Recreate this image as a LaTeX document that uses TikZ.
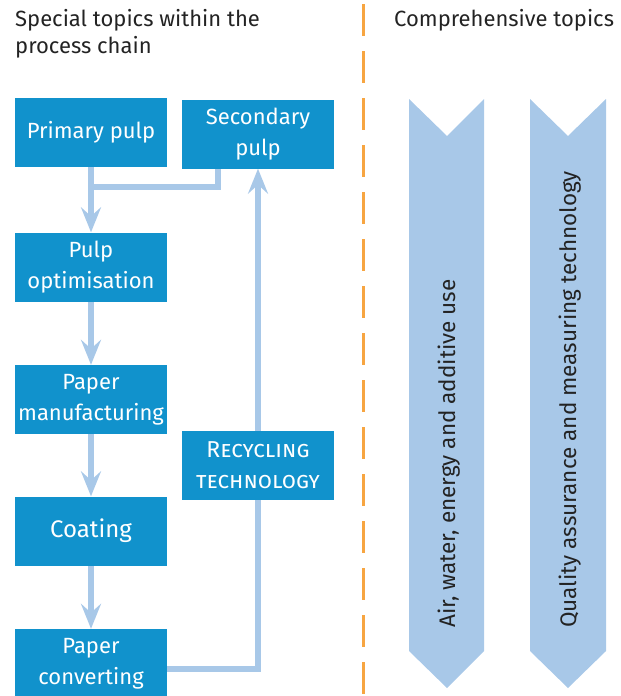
\documentclass[tikz,border=0pt]{standalone}
\usepackage{fontspec}
\setmainfont{Fira Sans}
\usetikzlibrary{arrows.meta,backgrounds}
\definecolor{chainblue}{RGB}{17, 146, 204}
\definecolor{flowblue}{RGB}{168, 200, 232}
\definecolor{dividerorange}{RGB}{247, 165, 65}
\definecolor{titlegrey}{RGB}{35, 35, 35}
\tikzset{
  stage/.style={
    fill=chainblue,
    text=white,
    minimum width=152pt,
    minimum height=69pt,
    inner sep=0pt,
    align=center,
    font=\fontsize{22}{31}\selectfont,
  },
  flow/.style={
    draw=flowblue,
    line width=6pt,
  },
  flowarrow/.style={
    flow,
    -{Stealth[width=20pt,length=25pt,inset=9pt]},
  },
  heading/.style={
    text=titlegrey,
    inner sep=0pt,
    align=left,
    font=\fontsize{22}{27}\selectfont,
  },
  chevron/.style={
    fill=flowblue,
  },
  topic/.style={
    rotate=90,
    anchor=base west,
    inner sep=0pt,
    text=titlegrey,
    font=\fontsize{22.5}{24}\selectfont,
  },
}

\begin{document}
\begin{tikzpicture}[x=1pt,y=-1pt]
  \useasboundingbox (0,0) rectangle (621,696);

  % Headings
  \node[heading, anchor=base west] (special) at (15,26) {Special topics within the};
  \node[heading, anchor=base west] (chain) at (15,53) {process chain};
  \node[heading, anchor=base west] (comprehensive) at (394,26) {Comprehensive topics};

  % Process chain
  \node[stage] (primary) at (91,132.5) {Primary pulp};
  \node[stage] (secondary) at (258,134) {Secondary\\pulp};
  \node[stage] (optimisation) at (91,267) {Pulp\\optimisation};
  \node[stage] (manufacturing) at (91,399.5) {Paper\\manufacturing};
  \node[stage, font=\fontsize{24}{31}\selectfont] (coating) at (91,531) {Coating};
  \node[stage] (converting) at (91,663.5) {Paper\\converting};
  \node[stage, font=\fontsize{23}{31}\selectfont] (recycling) at (258,465) {\textsc{Recycling}\\\textsc{technology}};

  % Connectors behind the boxes
  \begin{scope}[on background layer]
    \draw[flowarrow] (primary.south) -- (optimisation.north);
    \draw[flow] ([xshift=-40pt]secondary.south) |- ([yshift=-20pt]primary.south);
    \draw[flowarrow] (optimisation) -- (manufacturing.north);
    \draw[flowarrow] (manufacturing) -- (coating.north);
    \draw[flowarrow] (coating) -- (converting.north);
    \draw[flowarrow] ([yshift=-5pt]converting.east) -| (secondary.south);
  \end{scope}

  % Divider
  \draw[dividerorange, line width=3pt, dash pattern=on 32pt off 15pt] (363,4) -- (363,696);

  % Comprehensive topics
  \fill[chevron] (409,99) -- (447,136) -- (484,99) -- (484,651) -- (447,688) -- (409,651) -- cycle;
  \fill[chevron] (530,99) -- (568,136) -- (606,99) -- (606,651) -- (568,688) -- (530,651) -- cycle;
  \node[topic] (resources) at (455,628) {Air, water, energy and additive use};
  \node[topic] (quality) at (576,628) {Quality assurance and measuring technology};
\end{tikzpicture}
\end{document}
